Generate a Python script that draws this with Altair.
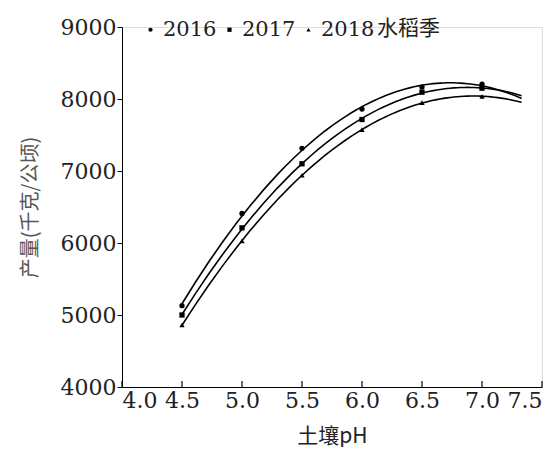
import altair as alt
import pandas as pd

ph = [4.5, 5.0, 5.5, 6.0, 6.5, 7.0]
y2016 = [5130, 6410, 7315, 7860, 8165, 8205]
y2017 = [5000, 6210, 7100, 7715, 8095, 8150]
y2018 = [4860, 6030, 6940, 7575, 7950, 8035]
years = ["2016", "2017", "2018"]
x_ticks = [4.0, 4.5, 5.0, 5.5, 6.0, 6.5, 7.0, 7.5]
y_ticks = [4000, 5000, 6000, 7000, 8000, 9000]

rows = []
for yr, vals in zip(years, [y2016, y2017, y2018]):
    for p, v in zip(ph, vals):
        rows.append({"ph": p, "yield": v, "year": yr})
df = pd.DataFrame(rows)

SERIF = "DejaVu Serif"
CJK = "Noto Sans CJK SC"

xs = alt.Scale(domain=[4.0, 7.5], nice=False)
ys = alt.Scale(domain=[4000, 9000], nice=False)

base = alt.Chart(df)

lines = base.transform_regression(
    "ph", "yield", groupby=["year"], method="poly", order=2, extent=[4.5, 7.33]
).mark_line(color="black", strokeWidth=1.6).encode(
    x=alt.X("ph:Q", scale=xs),
    y=alt.Y("yield:Q", scale=ys),
    detail="year:N",
)

points = base.mark_point(filled=True, color="black", opacity=1, size=28).encode(
    x=alt.X("ph:Q", scale=xs,
            axis=alt.Axis(values=x_ticks, format=".1f", title="土壤pH", tickSize=0,
                          labelFont=SERIF, labelFontSize=22, labelColor="#222",
                          titleFont=CJK, titleFontSize=21, titleFontWeight="normal",
                          titleColor="#222", domainColor="black", labelPadding=3,
                          titlePadding=14, grid=False)),
    y=alt.Y("yield:Q", scale=ys,
            axis=alt.Axis(values=y_ticks, format="d", title="产量(千克/公顷)", tickSize=5,
                          tickColor="black", labelFont=SERIF, labelFontSize=22,
                          labelColor="#222", titleFont=CJK, titleFontSize=20,
                          titleFontWeight="normal", titleColor="#555", domainColor="black",
                          labelPadding=1, titlePadding=20, grid=False)),
    shape=alt.Shape("year:N",
                    scale=alt.Scale(domain=years, range=["circle", "square", "triangle-up"]),
                    legend=alt.Legend(title="水稻季", titleOrient="right", orient="none",
                                      legendX=18, legendY=-8, direction="horizontal",
                                      labelFont=SERIF, labelFontSize=21, labelColor="#222",
                                      titleFont=CJK, titleFontSize=21, titleFontWeight="normal",
                                      titleColor="#222", symbolSize=18, symbolFillColor="black",
                                      symbolStrokeColor="black", columnPadding=2,
                                      labelOffset=2, titlePadding=3)),
)

tick_df = pd.DataFrame({"t": x_ticks})
xticks = alt.Chart(tick_df).mark_rule(color="black", strokeWidth=1.2).encode(
    x=alt.X("t:Q", scale=xs),
    y=alt.value(360),
    y2=alt.value(354),
)

chart = alt.layer(lines, points, xticks).properties(
    width=420, height=360,
    autosize=alt.AutoSizeParams(type="none"),
    padding={"left": 114, "top": 19, "right": 10, "bottom": 60},
).configure_view(stroke=None).configure(background="white")

chart.save("out.html", embed_options={"renderer": "svg", "actions": False})
